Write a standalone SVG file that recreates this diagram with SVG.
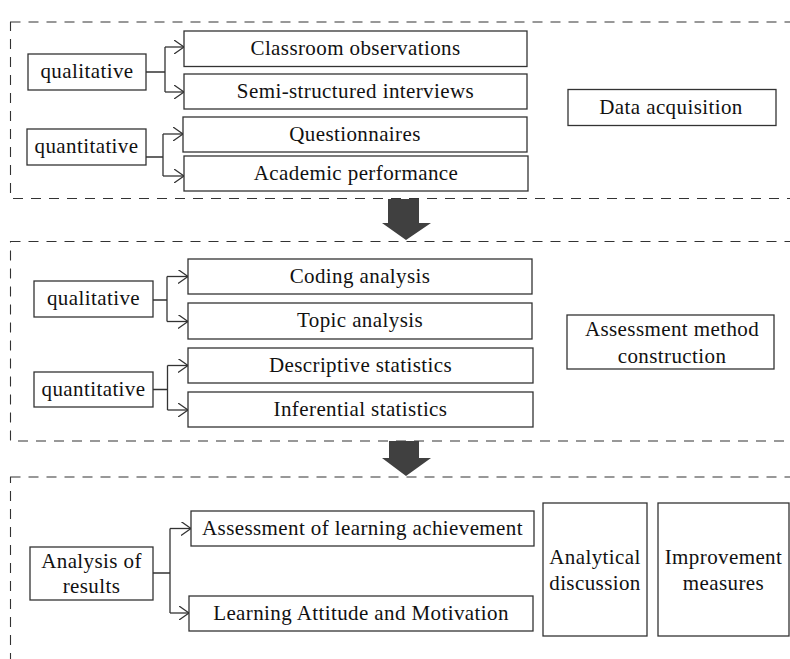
<svg xmlns="http://www.w3.org/2000/svg" width="790" height="659" viewBox="0 0 790 659">
<defs>
<style>
.bg{fill:#ffffff}
.box{fill:#ffffff;stroke:#333333;stroke-width:1.3}
.sec{fill:none;stroke:#333333;stroke-width:1.1;stroke-dasharray:10 8}
.t{font-family:"Liberation Serif","Times New Roman",serif;font-size:21px;fill:#111111;text-anchor:middle;letter-spacing:0.4px}
.con{fill:none;stroke:#333333;stroke-width:1.3}
.big{fill:#404040}
</style>
<marker id="ah" viewBox="0 0 10 14" refX="10" refY="7" markerWidth="10" markerHeight="14" markerUnits="userSpaceOnUse" orient="auto">
<path d="M0,0 L10,7 L0,14" fill="none" stroke="#333333" stroke-width="1.3"/>
</marker>
</defs>
<rect class="bg" x="0" y="0" width="790" height="659"/>

<g id="sections">
<rect class="sec" x="10.5" y="22" width="800" height="176.5"/>
<rect class="sec" x="10.5" y="241.5" width="800" height="199.5"/>
<rect class="sec" x="10.5" y="477" width="800" height="220"/>
</g>

<g id="flow-arrows">
<polygon class="big" points="388,199 419,199 419,223 431,223 406,240 382,223 388,223"/>
<polygon class="big" points="389,441 419,441 419,458 431,458 406,476 382,458 389,458"/>
</g>

<g id="connectors">
<path class="con" d="M146,72 H165 M165,47 V92" />
<path class="con" marker-end="url(#ah)" d="M165,47 H184"/>
<path class="con" marker-end="url(#ah)" d="M165,92 H184"/>
<path class="con" d="M146,157 H163 M163,134 V176"/>
<path class="con" marker-end="url(#ah)" d="M163,134 H183"/>
<path class="con" marker-end="url(#ah)" d="M163,176 H184"/>

<path class="con" d="M153,300 H167 M167,276.5 V321.5"/>
<path class="con" marker-end="url(#ah)" d="M167,276.5 H188"/>
<path class="con" marker-end="url(#ah)" d="M167,321.5 H188"/>
<path class="con" d="M153,389.5 H167.5 M167.5,365.5 V410"/>
<path class="con" marker-end="url(#ah)" d="M167.5,365.5 H188"/>
<path class="con" marker-end="url(#ah)" d="M167.5,410 H188"/>

<path class="con" d="M153,573 H170 M170,528.5 V613"/>
<path class="con" marker-end="url(#ah)" d="M170,528.5 H191"/>
<path class="con" marker-end="url(#ah)" d="M170,613 H189"/>
</g>

<g id="n-qual1"><rect class="box" x="28" y="54" width="118" height="36"/><text class="t" x="87" y="78">qualitative</text></g>
<g id="n-quant1"><rect class="box" x="27" y="129" width="119" height="36"/><text class="t" x="86.5" y="153">quantitative</text></g>
<g id="n-classroom"><rect class="box" x="184" y="31" width="343" height="35.5"/><text class="t" x="355.5" y="55">Classroom observations</text></g>
<g id="n-semi"><rect class="box" x="184" y="74" width="343" height="35"/><text class="t" x="355.5" y="97.5">Semi-structured interviews</text></g>
<g id="n-quest"><rect class="box" x="183" y="117" width="344" height="35"/><text class="t" x="355" y="140.5">Questionnaires</text></g>
<g id="n-academic"><rect class="box" x="184" y="156" width="344" height="35"/><text class="t" x="356" y="179.5">Academic performance</text></g>
<g id="n-data"><rect class="box" x="568" y="89.5" width="208" height="36"/><text class="t" x="671" y="113.5">Data acquisition</text></g>

<g id="n-qual2"><rect class="box" x="34" y="281" width="119" height="36"/><text class="t" x="93.5" y="305">qualitative</text></g>
<g id="n-quant2"><rect class="box" x="34" y="372" width="119" height="35"/><text class="t" x="93.5" y="395.5">quantitative</text></g>
<g id="n-coding"><rect class="box" x="188" y="259" width="344" height="35"/><text class="t" x="360" y="282.5">Coding analysis</text></g>
<g id="n-topic"><rect class="box" x="188" y="303" width="344" height="36"/><text class="t" x="360" y="327">Topic analysis</text></g>
<g id="n-desc"><rect class="box" x="188" y="348" width="345" height="35"/><text class="t" x="360.5" y="371.5">Descriptive statistics</text></g>
<g id="n-inf"><rect class="box" x="188" y="392" width="345" height="35"/><text class="t" x="360.5" y="415.5">Inferential statistics</text></g>
<g id="n-assess"><rect class="box" x="567" y="315" width="207" height="54"/><text class="t" x="672" y="336">Assessment method</text><text class="t" x="672" y="362.5">construction</text></g>

<g id="n-analysis"><rect class="box" x="30" y="547" width="123" height="53"/><text class="t" x="91.5" y="567.5">Analysis of</text><text class="t" x="91.5" y="592.5">results</text></g>
<g id="n-achieve"><rect class="box" x="191" y="511" width="343" height="35"/><text class="t" x="362.5" y="534.5">Assessment of learning achievement</text></g>
<g id="n-attitude"><rect class="box" x="189" y="596" width="344" height="35"/><text class="t" x="361" y="619.5">Learning Attitude and Motivation</text></g>
<g id="n-discussion"><rect class="box" x="543" y="503" width="104" height="133"/><text class="t" x="595" y="564">Analytical</text><text class="t" x="595" y="590">discussion</text></g>
<g id="n-improve"><rect class="box" x="658" y="503" width="131" height="133"/><text class="t" x="723.5" y="564">Improvement</text><text class="t" x="723.5" y="590">measures</text></g>
</svg>
